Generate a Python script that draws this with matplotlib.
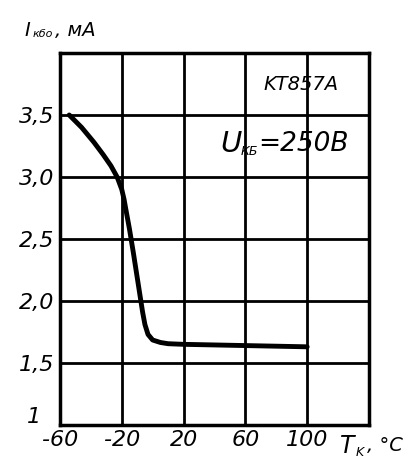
import matplotlib
matplotlib.use('Agg')
import matplotlib.pyplot as plt

# Data
temp = [-54, -46, -38, -32, -27, -23, -20, -18.5, -17.5, -15, -12.5, -10, -8,
        -6.5, -5, -3, 0, 5, 10, 20, 60, 100]
current = [3.5, 3.4, 3.28, 3.18, 3.09, 3.0, 2.9, 2.82, 2.75, 2.58, 2.39, 2.19, 2.03,
           1.91, 1.81, 1.73, 1.685, 1.665, 1.655, 1.65, 1.64, 1.63]
xticks = [-60, -20, 20, 60, 100, 140]
xlabels = ['-60', '-20', '20', '60', '100', '']
yticks = [1, 1.5, 2.0, 2.5, 3.0, 3.5, 4.0]
ylabels = ['', '1,5', '2,0', '2,5', '3,0', '3,5', '']

plt.rcParams['font.family'] = ['DejaVu Sans']

fig = plt.figure(figsize=(4.05, 4.69), dpi=100)
ax = fig.add_axes([0.148, 0.094, 0.763, 0.793])

ax.plot(temp, current, color='black', linewidth=3.5,
        solid_capstyle='round', solid_joinstyle='round')

ax.set_xlim(-60, 140)
ax.set_ylim(1, 4)
ax.set_xticks(xticks)
ax.set_xticklabels(xlabels, fontsize=16, style='italic')
ax.set_yticks(yticks)
ax.set_yticklabels(ylabels, fontsize=16, style='italic')
ax.tick_params(length=0, pad=4)
ax.grid(True, color='black', linewidth=2)
for s in ax.spines.values():
    s.set_linewidth(2.5)

# "1" at the bottom of the y axis sits a bit higher than the x labels
ax.text(-0.06, 0.02, '1', transform=ax.transAxes, fontsize=16,
        style='italic', ha='right', va='center')

# annotations
ax.text(0.78, 0.915, 'KT857A', transform=ax.transAxes, fontsize=14,
        style='italic', ha='center', va='center')
ax.text(0.52, 0.755, 'U', transform=ax.transAxes, fontsize=21,
        style='italic', ha='left', va='center')
ax.text(0.585, 0.735, 'КБ', transform=ax.transAxes, fontsize=9,
        style='italic', ha='left', va='center')
ax.text(0.64, 0.755, '=250B', transform=ax.transAxes, fontsize=19,
        style='italic', ha='left', va='center')

# axis labels
fig.text(0.06, 0.935, 'I', fontsize=14, style='italic', ha='left', va='center')
fig.text(0.08, 0.928, 'кбо', fontsize=8, style='italic', ha='left', va='center')
fig.text(0.135, 0.935, ', мА', fontsize=14, style='italic', ha='left', va='center')
fig.text(0.84, 0.05, 'T', fontsize=17, style='italic', ha='left', va='center')
fig.text(0.878, 0.036, 'K', fontsize=9, style='italic', ha='left', va='center')
fig.text(0.905, 0.05, ', °C', fontsize=14, style='italic', ha='left', va='center')

fig.savefig('out.png', dpi=100)
